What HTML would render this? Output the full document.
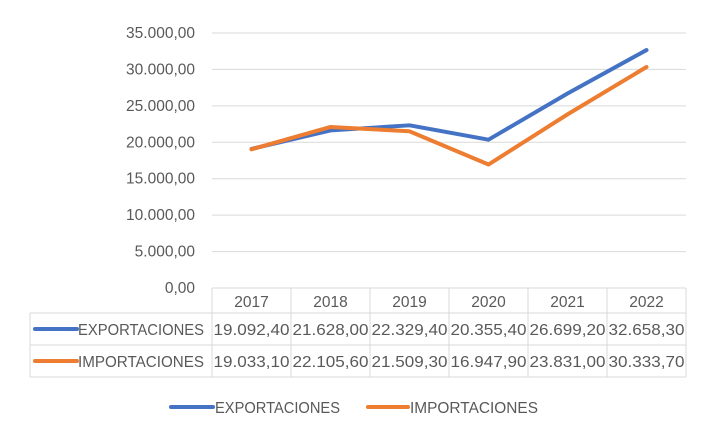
<!DOCTYPE html>
<html><head><meta charset="utf-8"><style>
body{margin:0;background:#fff;font-family:"Liberation Sans",sans-serif;}
svg text{font-family:"Liberation Sans",sans-serif;fill:#595959;}
</style></head><body>
<svg id="c" width="716" height="438"></svg>
<script>
const years=["2017","2018","2019","2020","2021","2022"];
const expVals=[19092.4,21628.0,22329.4,20355.4,26699.2,32658.3];
const impVals=[19033.1,22105.6,21509.3,16947.9,23831.0,30333.7];
const expLabels=["19.092,40","21.628,00","22.329,40","20.355,40","26.699,20","32.658,30"];
const impLabels=["19.033,10","22.105,60","21.509,30","16.947,90","23.831,00","30.333,70"];
const yTicks=[0,5000,10000,15000,20000,25000,30000,35000];
const yTickLabels=["0,00","5.000,00","10.000,00","15.000,00","20.000,00","25.000,00","30.000,00","35.000,00"];
const seriesNames=["EXPORTACIONES","IMPORTACIONES"];
const colors=["#4472c4","#ed7d31"];
const svg=document.getElementById('c');const NS="http://www.w3.org/2000/svg";
function mk(t,a,txt){const e=document.createElementNS(NS,t);for(const k in a)e.setAttribute(k,a[k]);if(txt!==undefined)e.textContent=txt;svg.appendChild(e);return e;}
const x0=212,x1=686,yb=288,yt=33,colW=(x1-x0)/years.length;
const y=v=>yb-(v/35000)*(yb-yt);
const xc=i=>x0+colW*(i+0.5);
yTicks.forEach((t,i)=>{
 let g=mk('line',{x1:x0,x2:x1,y1:y(t),y2:y(t),stroke:'#d9d9d9','stroke-width':1});
 
 let l=mk('text',{x:195,y:y(t)+5,'text-anchor':'end','font-size':15.5},yTickLabels[i]);
 
});
const tl=30,rows=[288,313,345,377];
function ln(a,b,c,d){const e=mk('line',{x1:a,y1:b,x2:c,y2:d,stroke:'#d9d9d9','stroke-width':1});}
for(let i=0;i<=years.length;i++)ln(x0+colW*i,rows[0],x0+colW*i,rows[3]);
ln(tl,rows[1],tl,rows[3]);
ln(x0,rows[0],x1,rows[0]);ln(tl,rows[1],x1,rows[1]);ln(tl,rows[2],x1,rows[2]);ln(tl,rows[3],x1,rows[3]);
years.forEach((yr,i)=>{const t=mk('text',{x:xc(i),y:307,'text-anchor':'middle','font-size':15.5},yr);});
[expLabels,impLabels].forEach((labs,s)=>{
 const ry=(rows[s+1]+rows[s+2])/2;
 const k=mk('line',{x1:35,x2:77,y1:ry,y2:ry,stroke:colors[s],'stroke-width':4,'stroke-linecap':'round'});
 
 const n=mk('text',{x:78,y:ry+6,'font-size':15.5,textLength:126,lengthAdjust:'spacingAndGlyphs'},seriesNames[s]);
 
 labs.forEach((v,i)=>{const t=mk('text',{x:xc(i)-38,y:ry+6,'font-size':15.5,textLength:76,lengthAdjust:'spacingAndGlyphs'},v);});
});
[expVals,impVals].forEach((vals,s)=>{
 const p=mk('polyline',{points:vals.map((v,i)=>xc(i)+','+y(v)).join(' '),fill:'none',stroke:colors[s],'stroke-width':4,'stroke-linejoin':'round','stroke-linecap':'round'});
 
});
[[171,213,125],[368,408,128]].forEach((p,s)=>{
 const k=mk('line',{x1:p[0],x2:p[1],y1:407,y2:407,stroke:colors[s],'stroke-width':4,'stroke-linecap':'round'});
 
 const t=mk('text',{x:p[1]+2,y:413,'font-size':15.5,textLength:p[2],lengthAdjust:'spacingAndGlyphs'},seriesNames[s]);
 
});
</script>
</body></html>
